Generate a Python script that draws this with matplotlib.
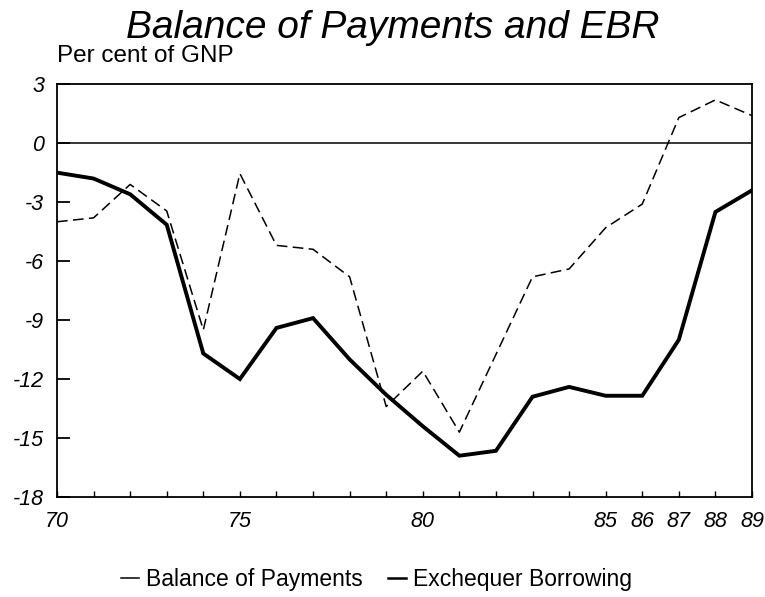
import matplotlib
matplotlib.use("Agg")
import matplotlib.pyplot as plt
from matplotlib.lines import Line2D

plt.rcParams['font.family'] = ['Liberation Sans', 'DejaVu Sans']

# years 1970 - 1989, per cent of GNP
years = list(range(70, 90))
balance_of_payments = [-4.0, -3.8, -2.1, -3.45, -9.5, -1.55, -5.2, -5.4, -6.8, -13.4,
                       -11.6, -14.7, -10.75, -6.8, -6.4, -4.3, -3.1, 1.3, 2.2, 1.4]
exchequer_borrowing = [-1.5, -1.8, -2.6, -4.15, -10.7, -12.0, -9.4, -8.9, -11.0, -12.8,
                       -14.4, -15.9, -15.65, -12.9, -12.4, -12.85, -12.85, -10.0, -3.5, -2.4]
yticks = [3, 0, -3, -6, -9, -12, -15, -18]
xlabels = {70: "70", 75: "75", 80: "80", 85: "85", 86: "86", 87: "87", 88: "88", 89: "89"}

fig = plt.figure(figsize=(7.65, 5.97), dpi=100)
ax = fig.add_axes([0.0745, 0.1675, 0.9085, 0.6915])

ax.plot(years, balance_of_payments, color="black", lw=1.1, dashes=(7, 3.5))
ax.plot(years, exchequer_borrowing, color="black", lw=2.8, solid_joinstyle="miter")
ax.axhline(0, color="black", lw=1.1)

ax.set_xlim(70, 89)
ax.set_ylim(-18, 3)
ax.set_yticks(yticks)
ax.set_yticklabels([str(v) for v in yticks], fontsize=15.5, style="italic")
ax.set_xticks(years)
ax.set_xticklabels([xlabels.get(y, "") for y in years], fontsize=15.5, style="italic")
ax.tick_params(axis="y", direction="in", length=9, width=1.3, pad=9)
ax.tick_params(axis="x", direction="in", length=4.5, width=1.0, pad=10)
for s in ax.spines.values():
    s.set_linewidth(1.3)

fig.text(0.513, 0.937, "Balance of Payments and EBR", ha="center", va="baseline",
         fontsize=28, style="italic")
fig.text(0.075, 0.896, "Per cent of GNP", ha="left", va="baseline", fontsize=17.5)

handles = [Line2D([], [], color="black", lw=1.1),
           Line2D([], [], color="black", lw=1.8)]
fig.legend(handles, ["Balance of Payments", "Exchequer Borrowing"], loc="center",
           bbox_to_anchor=(0.492, 0.03), ncol=2, frameon=False, fontsize=16.5,
           handlelength=0.8, handletextpad=0.3, columnspacing=1.1)

fig.savefig("out.png", dpi=100)
